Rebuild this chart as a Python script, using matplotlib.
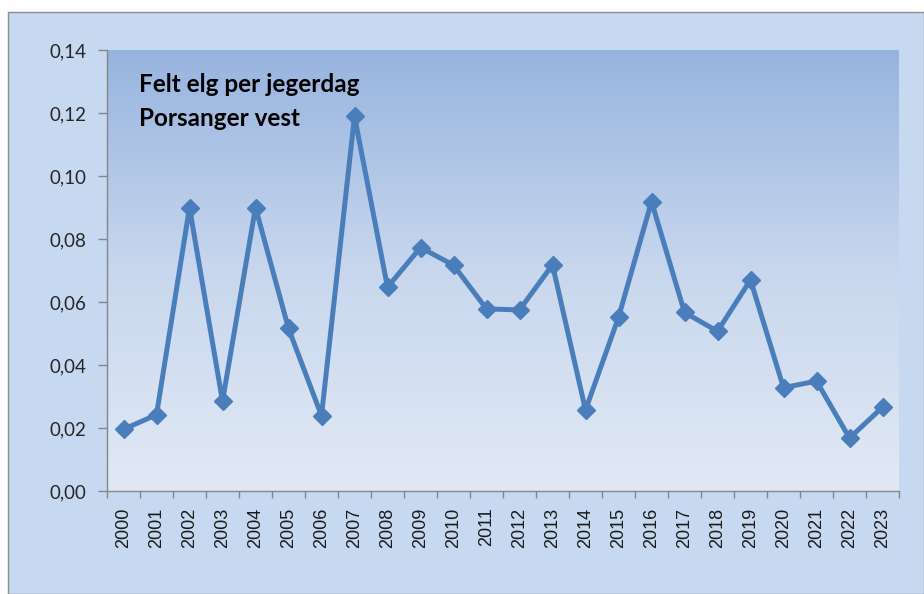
import matplotlib
matplotlib.use("Agg")
import matplotlib.pyplot as plt
import numpy as np
from matplotlib.patches import Rectangle
from matplotlib.colors import LinearSegmentedColormap

years = [str(y) for y in range(2000, 2024)]
values = [0.0196, 0.0242, 0.0900, 0.0285, 0.0900, 0.0516, 0.0239, 0.1190,
          0.0647, 0.0773, 0.0717, 0.0578, 0.0575, 0.0718, 0.0257, 0.0551,
          0.0919, 0.0567, 0.0507, 0.0670, 0.0328, 0.0349, 0.0168, 0.0266]
yticks = [0.00, 0.02, 0.04, 0.06, 0.08, 0.10, 0.12, 0.14]
ytick_labels = ["0,00", "0,02", "0,04", "0,06", "0,08", "0,10", "0,12", "0,14"]
title_lines = ["Felt elg per jegerdag", "Porsanger vest"]

W, H = 924, 594
fig = plt.figure(figsize=(W / 100, H / 100), dpi=100)
fig.patch.set_facecolor("white")
# chart area background with border
fig.patches.append(Rectangle((8 / W, 0), 1 - 8 / W, 1 - 12 / H, transform=fig.transFigure,
                             facecolor="#c6d9f1", edgecolor="#8c8c8c", linewidth=1.0, zorder=-10))

left, right, top, bottom = 107, 899, 50, 491
ax = fig.add_axes([left / W, 1 - bottom / H, (right - left) / W, (bottom - top) / H])
ax.patch.set_visible(False)

cmap = LinearSegmentedColormap.from_list("g", ["#e1e9f5", "#c8d7ee", "#97b4df"])
grad = np.linspace(0, 1, 256).reshape(-1, 1)
ax.imshow(grad, cmap=cmap, origin="lower", extent=[0, 1, 0, 1], transform=ax.transAxes,
          aspect="auto", zorder=0)

x = np.arange(len(years))
ax.plot(x, values, color="#4a7ebb", linewidth=3.6, marker="D", markersize=9,
        markerfacecolor="#4a7ebb", markeredgecolor="#4a7ebb", zorder=3)

ax.set_xlim(-0.5, len(years) - 0.5)
ax.set_ylim(0, 0.14)
ax.set_yticks(yticks)
ax.set_yticklabels(ytick_labels, fontfamily="Lato", fontsize=13.5, color="#262626")
ax.set_xticks(x)
ax.set_xticklabels(years, rotation=90, fontfamily="Liberation Sans", fontsize=13, color="#1a1a1a")
ax.set_xticks(np.arange(-0.5, len(years)), minor=True)
ax.tick_params(axis="x", which="major", length=0, pad=12)
ax.tick_params(axis="x", which="minor", length=5, color="#868686", width=1)
ax.tick_params(axis="y", length=6.5, color="#868686", width=1, pad=8.5)

for s in ["top", "right"]:
    ax.spines[s].set_visible(False)
for s in ["left", "bottom"]:
    ax.spines[s].set_color("#868686")
    ax.spines[s].set_linewidth(1)
    ax.spines[s].set_zorder(4)

ax.text(139 / W, 1 - 85 / H, title_lines[0], transform=fig.transFigure, fontfamily="Lato",
        fontweight="bold", fontsize=17.5, va="center", ha="left", color="black")
ax.text(139 / W, 1 - 118 / H, title_lines[1], transform=fig.transFigure, fontfamily="Lato",
        fontweight="bold", fontsize=17.5, va="center", ha="left", color="black")

fig.savefig("out.png", dpi=100, facecolor=fig.get_facecolor())
